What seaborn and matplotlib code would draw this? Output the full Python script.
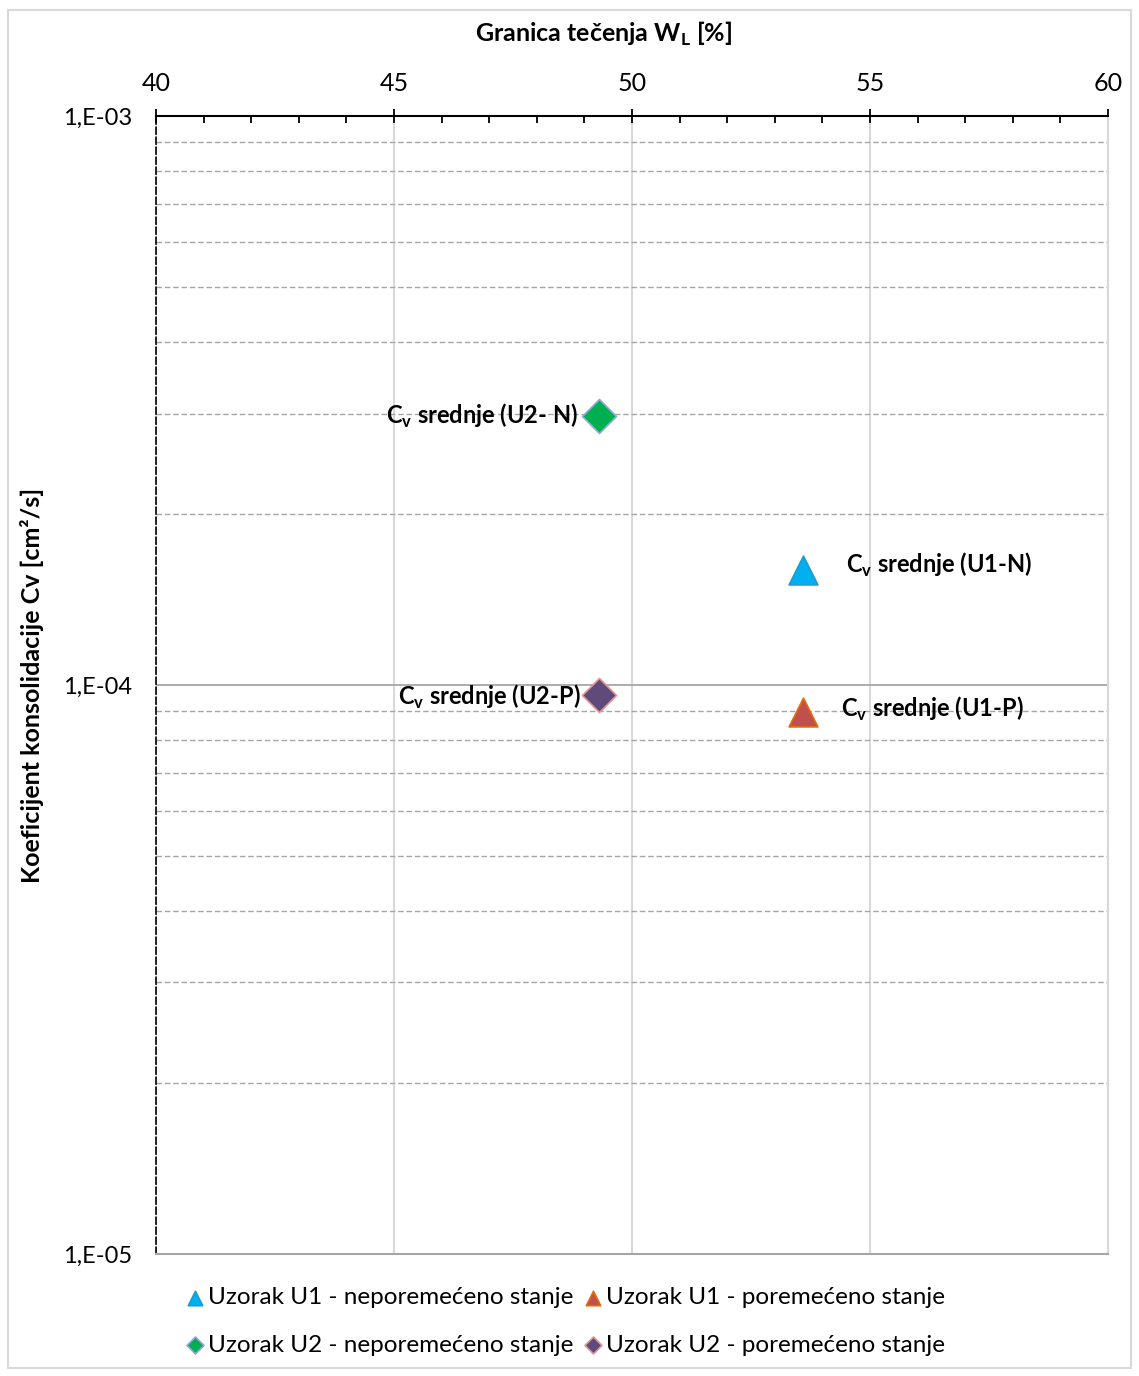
import math
import pandas as pd
import matplotlib
matplotlib.use("Agg")
import matplotlib.pyplot as plt
import matplotlib.ticker as mticker
from matplotlib.patches import Rectangle
import seaborn as sns

# podaci
samples = ["U1-N", "U1-P", "U2-N", "U2-P"]
legend_labels = ["Uzorak U1 - neporemećeno stanje", "Uzorak U1 - poremećeno stanje",
                 "Uzorak U2 - neporemećeno stanje", "Uzorak U2 - poremećeno stanje"]
point_labels = ["srednje (U1-N)", "srednje (U1-P)", "srednje (U2- N)", "srednje (U2-P)"]
wl = [53.6, 53.6, 49.3, 49.3]
cv = [1.59e-4, 8.97e-5, 2.97e-4, 9.6e-5]

df = pd.DataFrame({"wl": wl, "cv": cv, "sample": samples, "label": legend_labels})

markers = {"U1-N": "^", "U1-P": "^", "U2-N": "D", "U2-P": "D"}
fills = {"U1-N": "#00B0F0", "U1-P": "#C0504D", "U2-N": "#00B050", "U2-P": "#604A7B"}
edges = {"U1-N": "#1F9BD1", "U1-P": "#E46C0A", "U2-N": "#8EA9DB", "U2-P": "#D99694"}
sizes = {"U1-N": 430, "U1-P": 430, "U2-N": 300, "U2-P": 300}

sns.set_style("white")
plt.rcParams["font.family"] = ["Lato", "DejaVu Sans"]
plt.rcParams["mathtext.fontset"] = "custom"
plt.rcParams["mathtext.rm"] = "Lato"
plt.rcParams["mathtext.bf"] = "Lato:bold"
for k in ["text.color", "axes.labelcolor", "xtick.color", "ytick.color"]:
    plt.rcParams[k] = "black"

fig = plt.figure(figsize=(11.39, 13.76), dpi=100)
ax = fig.add_axes([0.137, 0.0887, 0.8358, 0.827])

for s in samples:
    sub = df[df["sample"] == s]
    sns.scatterplot(data=sub, x="wl", y="cv", marker=markers[s], color=fills[s],
                    edgecolor=edges[s], linewidth=1.2, s=sizes[s], ax=ax,
                    label=sub["label"].iloc[0], zorder=5)

ax.set_yscale("log")
ax.set_xlim(40, 60)
ax.set_ylim(1e-5, 1e-3)

# osa x gore
ax.xaxis.tick_top()
ax.xaxis.set_label_position("top")
ax.xaxis.set_major_locator(mticker.MultipleLocator(5))
ax.xaxis.set_minor_locator(mticker.MultipleLocator(1))
ax.tick_params(axis="x", which="major", direction="inout", length=10, width=1.3,
               labelsize=18, pad=10)
ax.tick_params(axis="x", which="minor", direction="in", length=5, width=1.3)

ax.yaxis.set_major_locator(mticker.LogLocator(base=10, numticks=5))
ax.yaxis.set_minor_locator(mticker.LogLocator(base=10, subs=range(2, 10), numticks=20))
ax.yaxis.set_major_formatter(mticker.FuncFormatter(
    lambda v, p: "1,E-%02d" % round(-math.log10(v))))
ax.yaxis.set_minor_formatter(mticker.NullFormatter())
ax.tick_params(axis="y", which="major", direction="out", length=5, width=1.3,
               labelsize=17, pad=12)
ax.tick_params(axis="y", which="minor", direction="in", length=5, width=1.3)

ax.set_xlabel("Granica tečenja W$_\\mathbf{L}$ [%]", fontsize=18, fontweight="bold", labelpad=22)
ax.xaxis.label.set_x(0.47)
ax.set_ylabel("Koeficijent konsolidacije Cv [cm²/s]", fontsize=18, fontweight="bold", labelpad=14)

ax.grid(False)
ax.xaxis.grid(True, which="major", color="#D9D9D9", linewidth=1.5, linestyle="-")
ax.yaxis.grid(True, which="minor", color="#A6A6A6", linewidth=1.0, linestyle=(0, (4, 2)))
ax.yaxis.grid(True, which="major", color="#A6A6A6", linewidth=1.3, linestyle="-")
ax.set_axisbelow(True)

ax.spines["top"].set_color("black")
ax.spines["top"].set_linewidth(1.5)
ax.spines["left"].set_color("black")
ax.spines["left"].set_linewidth(1.2)
ax.spines["left"].set_linestyle((0, (4, 2)))
ax.spines["bottom"].set_color("#A6A6A6")
ax.spines["bottom"].set_linewidth(1.5)
ax.spines["right"].set_color("#D9D9D9")
ax.spines["right"].set_linewidth(1.5)

# oznake tacaka
offsets = {"U1-N": (31, 4, "left"), "U1-P": (27, 2, "left"),
           "U2-N": (-15, 0, "right"), "U2-P": (-13, -1, "right")}
for s, lab, x, y in zip(samples, point_labels, wl, cv):
    dx, dy, ha = offsets[s]
    ax.annotate("C$_\\mathbf{v}$ " + lab, (x, y), xytext=(dx, dy), textcoords="offset points",
                ha=ha, va="center", fontsize=17, fontweight="bold", zorder=6)

handles, labels = ax.get_legend_handles_labels()
ax.get_legend().remove()
order = [0, 2, 1, 3]
leg = fig.legend([handles[i] for i in order], [labels[i] for i in order], ncol=2,
                 loc="upper center", bbox_to_anchor=(0.495, 0.0805), frameon=False,
                 fontsize=17.5, markerscale=0.5, handletextpad=0.05, columnspacing=0.3,
                 labelspacing=1.1, handlelength=1.0)

fig.patches.append(Rectangle((0.007, 0.006), 0.986, 0.987, transform=fig.transFigure,
                             fill=False, edgecolor="#D9D9D9", linewidth=1.5))

fig.savefig("out.png", dpi=100)
